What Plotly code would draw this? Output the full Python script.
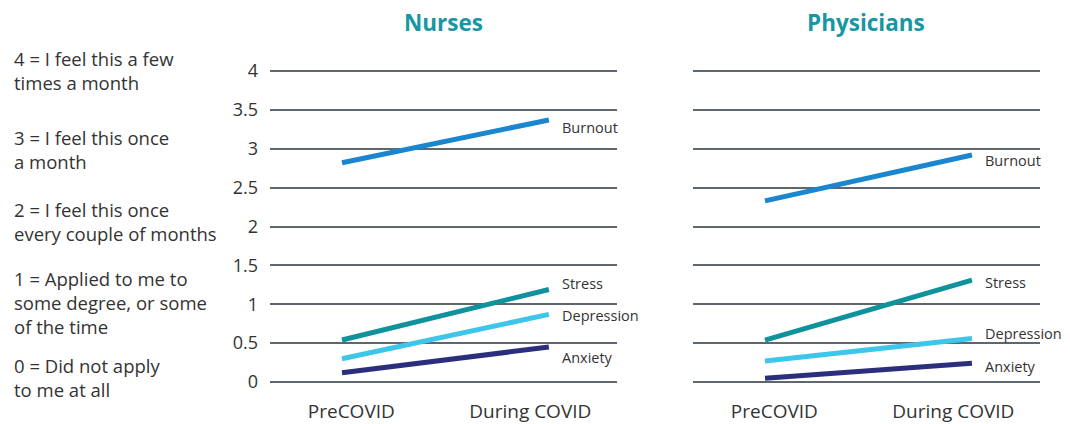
import plotly.graph_objects as go

periods = ["PreCOVID", "During COVID"]
series = ["Burnout", "Stress", "Depression", "Anxiety"]
nurses = {"Burnout": [2.82, 3.37], "Stress": [0.54, 1.19], "Depression": [0.30, 0.87], "Anxiety": [0.12, 0.45]}
physicians = {"Burnout": [2.33, 2.92], "Stress": [0.54, 1.31], "Depression": [0.27, 0.56], "Anxiety": [0.05, 0.24]}
y_ticks = [0, 0.5, 1, 1.5, 2, 2.5, 3, 3.5, 4]
y_ticktext = ["0", "0.5", "1", "1.5", "2", "2.5", "3", "3.5", "4"]
scale_text = [
    ("4 = I feel this a few<br>times a month", 0.849),
    ("3 = I feel this once<br>a month", 0.659),
    ("2 = I feel this once<br>every couple of months", 0.487),
    ("1 = Applied to me to<br>some degree, or some<br>of the time", 0.293),
    ("0 = Did not apply<br>to me at all", 0.1106),
]
colors = {"Burnout": "#1a86cf", "Stress": "#0f929c", "Depression": "#3dc6ea", "Anxiety": "#2b2e7c"}
label_offsets = {
    "nurses": {"Burnout": -0.1, "Stress": 0.08, "Depression": -0.02, "Anxiety": -0.13},
    "physicians": {"Burnout": -0.07, "Stress": -0.03, "Depression": 0.06, "Anxiety": -0.04},
}

FONT = "'Open Sans', sans-serif"
TXT = "#333333"
fig = go.Figure()
x_pos = [0, 1]
for name, data, xa, ya in [("nurses", nurses, "x", "y"), ("physicians", physicians, "x2", "y2")]:
    for s in series:
        fig.add_trace(go.Scatter(x=x_pos, y=data[s], mode="lines", xaxis=xa, yaxis=ya,
                                 line=dict(color=colors[s], width=5), showlegend=False,
                                 hoverinfo="skip"))
        fig.add_annotation(x=1.055, y=data[s][1] + label_offsets[name][s], xref=xa, yref=ya,
                           text=s, showarrow=False, xanchor="left", yanchor="middle",
                           font=dict(family=FONT, size=14.5, color=TXT))

ydom = [0.0822, 0.8673]
xrange_ = [-0.348, 1.329]
common_x = dict(range=xrange_, showgrid=False, zeroline=False, showline=False,
                tickvals=[0.045, 0.91], ticktext=periods, ticks="", automargin=False,
                tickfont=dict(family=FONT, size=19, color=TXT), ticklabelstandoff=8,
                fixedrange=True)
common_y = dict(range=[-0.1, 4.1], domain=ydom, tickvals=y_ticks, ticktext=y_ticktext,
                showgrid=True, gridcolor="#5f676c", gridwidth=1.6, zeroline=False,
                showline=False, ticks="", automargin=False, ticklabelstandoff=11)
fig.update_layout(
    width=1062, height=416, margin=dict(l=0, r=0, t=0, b=0, autoexpand=False),
    paper_bgcolor="white", plot_bgcolor="white",
    xaxis=dict(domain=[0.2467, 0.5734], **common_x),
    xaxis2=dict(domain=[0.6450, 0.9718], **common_x),
    yaxis=dict(anchor="x", tickfont=dict(family=FONT, size=18, color=TXT), **common_y),
    yaxis2=dict(anchor="x2", showticklabels=False, **common_y),
)
for t, xc in [("Nurses", 0.4105), ("Physicians", 0.808)]:
    fig.add_annotation(x=xc, y=0.966, xref="paper", yref="paper", text="<b>" + t + "</b>",
                       showarrow=False, xanchor="center", yanchor="middle",
                       font=dict(family=FONT, size=22.5, color="#1796a3"))
for txt, yc in scale_text:
    fig.add_annotation(x=0.004, y=yc, xref="paper", yref="paper", text=txt, showarrow=False,
                       xanchor="left", yanchor="middle", align="left",
                       font=dict(family=FONT, size=18.5, color=TXT))

fig.write_html("out.html")
